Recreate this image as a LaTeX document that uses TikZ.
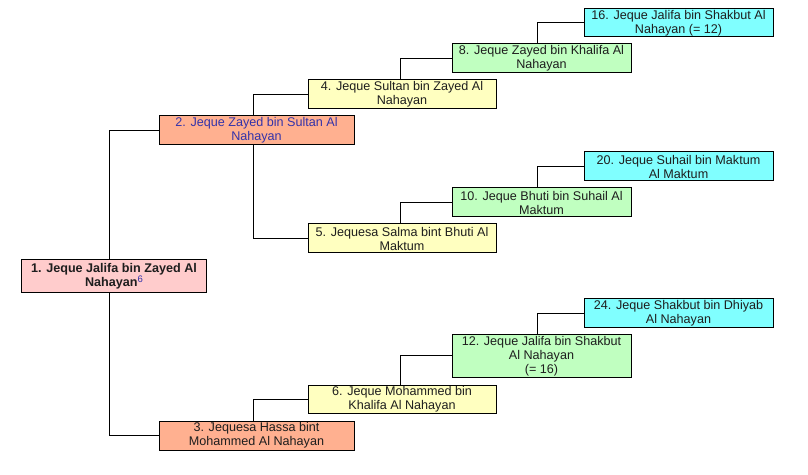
\documentclass[tikz,border=0pt]{standalone}
\usepackage{fontspec}
\setmainfont{Liberation Sans}
\definecolor{cyanbox}{RGB}{128,255,255}
\definecolor{greenbox}{RGB}{192,255,192}
\definecolor{yellowbox}{RGB}{255,255,192}
\definecolor{salmonbox}{RGB}{255,176,144}
\definecolor{pinkbox}{RGB}{255,204,204}
\definecolor{linkblue}{RGB}{51,51,170}
\definecolor{txt}{RGB}{30,30,30}
\tikzset{
  person/.style={draw=black, line width=1bp, align=center, inner sep=0pt,
    text=txt, font=\fontsize{12.6bp}{14bp}\selectfont},
  link/.style={draw=black, line width=1bp},
  gen1/.style={person, fill=pinkbox, minimum width=184bp, minimum height=33bp},
  gen2/.style={person, fill=salmonbox, minimum width=195bp, minimum height=29bp},
  gen3/.style={person, fill=yellowbox, minimum width=188bp, minimum height=29bp},
  gen4/.style={person, fill=greenbox, minimum width=179bp, minimum height=29bp},
  gen5/.style={person, fill=cyanbox, minimum width=189bp, minimum height=29bp}
}
\begin{document}
\begin{tikzpicture}[x=1bp,y=-1bp]
\path[use as bounding box, fill=white] (0,0) rectangle (808,475);
% generation 5
\node[gen5, minimum height=28bp] (n16) at (678.5,23) {16. Jeque Jalifa bin Shakbut Al\\Nahayan (= 12)};
\node[gen5] (n20) at (678.5,166.5) {20. Jeque Suhail bin Maktum\\Al Maktum};
\node[gen5] (n24) at (678.5,313.5) {24. Jeque Shakbut bin Dhiyab\\Al Nahayan};
% generation 4
\node[gen4] (n8) at (541.5,58.5) {8. Jeque Zayed bin Khalifa Al\\Nahayan};
\node[gen4] (n10) at (541.5,202.5) {10. Jeque Bhuti bin Suhail Al\\Maktum};
\node[gen4, minimum height=42bp] (n12) at (541.5,356) {12. Jeque Jalifa bin Shakbut\\Al Nahayan\\(= 16)};
% generation 3
\node[gen3] (n4) at (402,94.5) {4. Jeque Sultan bin Zayed Al\\Nahayan};
\node[gen3] (n5) at (402,238.5) {5. Jequesa Salma bint Bhuti Al\\Maktum};
\node[gen3, minimum height=28bp] (n6) at (402,399) {6. Jeque Mohammed bin\\Khalifa Al Nahayan};
% generation 2
\node[gen2, text=linkblue] (n2) at (256.5,130.5) {2. Jeque Zayed bin Sultan Al\\Nahayan};
\node[gen2] (n3) at (256.5,435.5) {3. Jequesa Hassa bint\\Mohammed Al Nahayan};
% generation 1
\node[gen1, font=\fontsize{12.6bp}{14bp}\selectfont\bfseries] (n1) at (114,276.5) {1. Jeque Jalifa bin Zayed Al\\Nahayan\raisebox{4.5bp}{\fontsize{9.5bp}{10bp}\selectfont\mdseries\textcolor{linkblue}{6}}};
% connectors
\draw[link] ([xshift=-4.5bp]n1.north) |- (n2.west);
\draw[link] ([xshift=-4.5bp]n1.south) |- (n3.west);
\draw[link] ([xshift=-3bp]n2.north) |- (n4.west);
\draw[link] ([xshift=-3bp]n2.south) |- (n5.west);
\draw[link] ([xshift=-3bp]n3.north) |- (n6.west);
\draw[link] ([xshift=-1.5bp]n4.north) |- (n8.west);
\draw[link] ([xshift=-1.5bp]n5.north) |- (n10.west);
\draw[link] ([xshift=-1.5bp]n6.north) |- (n12.west);
\draw[link] ([xshift=-4.5bp]n8.north) |- (n16.west);
\draw[link] ([xshift=-4.5bp]n10.north) |- (n20.west);
\draw[link] ([xshift=-4.5bp]n12.north) |- (n24.west);
\end{tikzpicture}
\end{document}
